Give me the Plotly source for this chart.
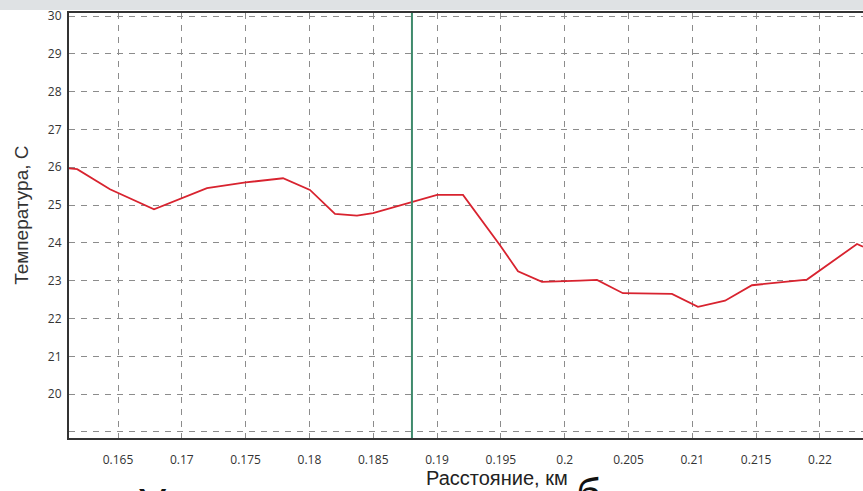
import plotly.graph_objects as go

# Data
distance_km = [0.16116, 0.1618, 0.16437, 0.16782, 0.17197, 0.1750, 0.17793, 0.18004,
               0.1820, 0.18372, 0.18498, 0.18811, 0.1900, 0.19203, 0.19493, 0.19634,
               0.19822, 0.2012, 0.20253, 0.20456, 0.2084, 0.21044, 0.21256, 0.21467,
               0.21671, 0.21898, 0.2229, 0.22337]
temperature_c = [25.97, 25.95, 25.42, 24.89, 25.45, 25.60, 25.71, 25.40,
                 24.77, 24.72, 24.79, 25.10, 25.27, 25.27, 23.94, 23.25,
                 22.97, 23.00, 23.02, 22.67, 22.65, 22.31, 22.47, 22.88,
                 22.96, 23.03, 23.97, 23.90]

marker_x = [0.18803]  # vertical green marker position

x_tick_vals = [0.165, 0.17, 0.175, 0.18, 0.185, 0.19, 0.195, 0.2, 0.205, 0.21, 0.215, 0.22]
x_tick_text = ["0.165", "0.17", "0.175", "0.18", "0.185", "0.19", "0.195", "0.2",
               "0.205", "0.21", "0.215", "0.22"]
y_tick_vals = [19, 20, 21, 22, 23, 24, 25, 26, 27, 28, 29, 30]
y_tick_text = ["", "20", "21", "22", "23", "24", "25", "26", "27", "28", "29", "30"]

x_title = "Расстояние, км"
y_title = "Температура, С"
y_range = [18.84, 30.08]
x_range = [0.16116, 0.22337]

fig = go.Figure()
fig.add_trace(go.Scatter(x=distance_km, y=temperature_c, mode="lines",
                         line=dict(color="#d8232f", width=1.8), showlegend=False,
                         hoverinfo="x+y"))
fig.add_trace(go.Scatter(x=[marker_x[0], marker_x[0]], y=y_range, mode="lines",
                         line=dict(color="#3f8a6c", width=2), showlegend=False,
                         hoverinfo="x"))

grid = dict(showgrid=True, gridcolor="#8c8c8c", gridwidth=1.4, griddash="6px,6px")

fig.update_xaxes(range=x_range, tickmode="array", tickvals=x_tick_vals, ticktext=x_tick_text,
                 showline=True, linecolor="#333333", linewidth=2, mirror=True,
                 ticks="", zeroline=False, ticklabelstandoff=10,
                 tickfont=dict(family="Open Sans", size=12, color="#333333"), **grid)
fig.update_yaxes(range=y_range, tickmode="array", tickvals=y_tick_vals, ticktext=y_tick_text,
                 showline=True, linecolor="#333333", linewidth=2, mirror=False,
                 ticks="", zeroline=False, ticklabelstandoff=3,
                 tickfont=dict(family="Open Sans", size=12, color="#333333"), **grid)

fig.update_layout(
    width=863, height=491,
    margin=dict(l=69, r=0, t=13, b=53),
    paper_bgcolor="white", plot_bgcolor="white",
    shapes=[dict(type="rect", xref="paper", yref="paper", x0=-0.1, x1=1.01,
                 y0=1.007, y1=1.04, fillcolor="#dfe2e4", line=dict(width=0), layer="below")],
    annotations=[
        dict(text=y_title, xref="paper", yref="paper", x=-0.0592, y=0.525, textangle=-90,
             showarrow=False, font=dict(family="Liberation Sans", size=19, color="#333333"),
             xanchor="center", yanchor="middle"),
        dict(text=x_title, xref="paper", yref="paper", x=(497 - 69) / 794, y=-(478 - 438) / 425,
             showarrow=False, font=dict(family="Liberation Sans", size=20, color="#222222"),
             xanchor="center", yanchor="middle"),
        dict(text="У", xref="paper", yref="paper", x=(152 - 69) / 794, y=-(478 - 438) / 425,
             showarrow=False, font=dict(family="Liberation Sans", size=44, color="#111111"),
             xanchor="center", yanchor="top"),
        dict(text="б", xref="paper", yref="paper", x=(588 - 69) / 794, y=-(468 - 438) / 425,
             showarrow=False, font=dict(family="Liberation Sans", size=44, color="#111111"),
             xanchor="center", yanchor="top"),
    ],
)

fig.write_html("out.html", config={"displayModeBar": False},
               post_script="document.body.style.margin='0';document.body.style.overflow='hidden';")
